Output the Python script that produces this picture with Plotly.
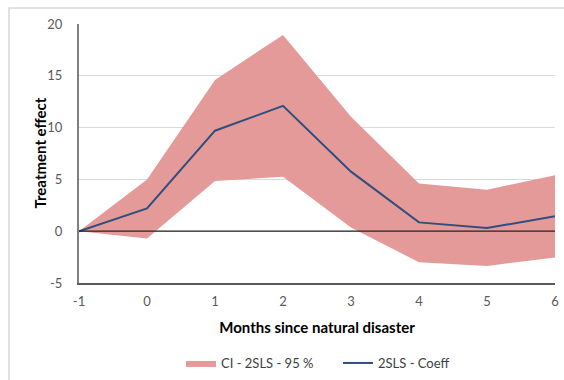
import plotly.graph_objects as go

months = [-1, 0, 1, 2, 3, 4, 5, 6]
coeff = [0, 2.2, 9.7, 12.1, 5.75, 0.85, 0.3, 1.45]
ci_upper = [0, 5.0, 14.6, 18.95, 11.05, 4.6, 4.0, 5.4]
ci_lower = [0, -0.7, 4.85, 5.25, 0.35, -3.0, -3.35, -2.55]
x_ticks = [-1, 0, 1, 2, 3, 4, 5, 6]
x_labels = ["-1", "0", "1", "2", "3", "4", "5", "6"]
y_ticks = [-5, 0, 5, 10, 15, 20]
y_labels = ["-5", "0", "5", "10", "15", "20"]

font = "Lato, Open Sans, sans-serif"

fig = go.Figure()
fig.add_trace(go.Scatter(
    x=months + months[::-1],
    y=ci_upper + ci_lower[::-1],
    fill="toself", fillcolor="#E59A9A",
    line=dict(width=0, color="#E59A9A"),
    mode="lines", name="CI - 2SLS - 95 %", hoverinfo="skip",
))
fig.add_trace(go.Scatter(
    x=months, y=coeff, mode="lines", name="2SLS - Coeff",
    line=dict(color="#2E4F7E", width=2),
))

fig.update_layout(
    width=564, height=380,
    margin=dict(l=79, r=9, t=24, b=97, autoexpand=False),
    paper_bgcolor="white", plot_bgcolor="white",
    font=dict(family=font, size=13, color="#595959"),
    showlegend=True,
    legend=dict(orientation="h", x=(181 - 79) / 476, xanchor="left", y=-0.251, yanchor="top",
                font=dict(size=13, color="#404040"), entrywidth=112, entrywidthmode="pixels",
                tracegroupgap=0),
    shapes=[
        dict(type="rect", xref="paper", yref="paper",
             x0=-0.147, x1=1.1, y0=-0.5, y1=1.0618,
             line=dict(color="#D9D9D9", width=1.5), layer="below"),
        dict(type="line", xref="paper", yref="y", x0=0, x1=1, y0=0, y1=0,
             line=dict(color="#222222", width=1.2)),
    ],
    annotations=[
        dict(text="<b>Treatment effect</b>", xref="paper", yref="paper",
             x=(39 - 79) / 476, y=0.5, textangle=-90, showarrow=False,
             xanchor="center", yanchor="middle",
             font=dict(size=15, color="#000000", family=font)),
    ],
)
fig.update_xaxes(
    range=[-1, 6], tickvals=x_ticks, ticktext=x_labels, showgrid=False, zeroline=False,
    showline=True, linecolor="#595959", linewidth=1.5, automargin=False,
    ticks="", ticklabelstandoff=6,
    title=dict(text="<b>Months since natural disaster</b>", font=dict(size=15, color="#000000"), standoff=14),
)
fig.update_yaxes(
    range=[-5, 20], tickvals=y_ticks, ticktext=y_labels, showgrid=True, gridcolor="#D9D9D9", gridwidth=1,
    zeroline=False, showline=True, linecolor="#7F7F7F", linewidth=2, automargin=False,
    ticks="", ticklabelstandoff=12,
)

fig.write_html("out.html", config={"displayModeBar": False},
               post_script="document.body.style.margin='0';document.body.style.overflow='hidden';")
